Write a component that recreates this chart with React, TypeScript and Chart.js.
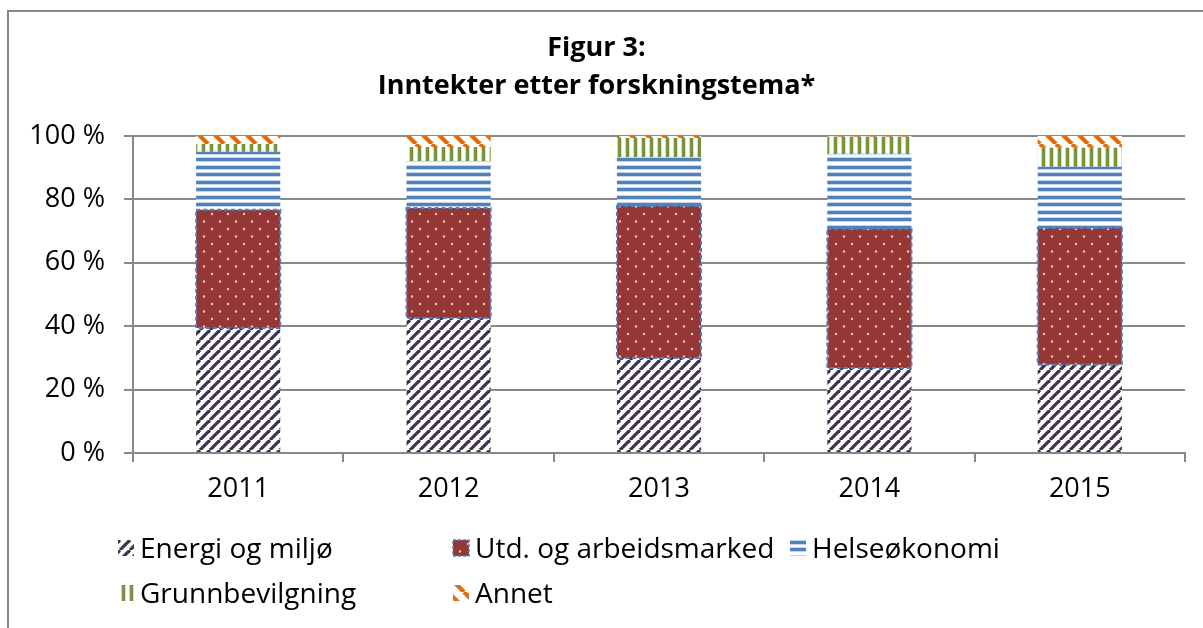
import React, { useEffect, useRef } from "react";
import { Chart, registerables } from "chart.js";

Chart.register(...registerables);

const years = ["2011", "2012", "2013", "2014", "2015"];
const seriesNames = ["Energi og miljø", "Utd. og arbeidsmarked", "Helseøkonomi", "Grunnbevilgning", "Annet"];
const energi = [39.4, 42.6, 30.0, 26.8, 27.8];
const utdanning = [37.3, 34.7, 47.9, 43.9, 43.2];
const helse = [18.3, 14.8, 15.5, 23.6, 19.3];
const grunn = [2.5, 4.4, 6.0, 5.5, 6.0];
const annet = [2.5, 3.5, 0.6, 0.2, 3.7];
const yTicks = [0, 20, 40, 60, 80, 100];

const FONT = "'Open Sans', 'DejaVu Sans', sans-serif";

function makePattern(w: number, h: number, draw: (c: CanvasRenderingContext2D) => void): CanvasPattern | string {
  const cv = document.createElement("canvas");
  cv.width = w;
  cv.height = h;
  const c = cv.getContext("2d")!;
  c.fillStyle = "#ffffff";
  c.fillRect(0, 0, w, h);
  draw(c);
  return c.createPattern(cv, "repeat") || "#888";
}

function buildPatterns() {
  const energiP = makePattern(10, 10, (c) => {
    c.strokeStyle = "#3f3151";
    c.lineWidth = 3.2;
    for (const k of [-10, 0, 10]) {
      c.beginPath();
      c.moveTo(k, 10);
      c.lineTo(k + 10, 0);
      c.stroke();
    }
  });
  const utdP = makePattern(16, 15, (c) => {
    c.fillStyle = "#953735";
    c.fillRect(0, 0, 16, 15);
    c.fillStyle = "#ebc7c7";
    c.beginPath();
    c.arc(4, 4, 1.2, 0, Math.PI * 2);
    c.arc(12, 11.5, 1.2, 0, Math.PI * 2);
    c.fill();
  });
  const helseP = makePattern(4, 15, (c) => {
    c.fillStyle = "#c5d5ea";
    c.fillRect(0, 0, 4, 5);
    c.fillRect(0, 7, 4, 5);
    c.fillStyle = "#4f81bd";
    c.fillRect(0, 1, 4, 3);
    c.fillRect(0, 8, 4, 3);
  });
  const grunnP = makePattern(8, 4, (c) => {
    c.fillStyle = "#d3e0bb";
    c.fillRect(1, 0, 5, 4);
    c.fillStyle = "#77933c";
    c.fillRect(2, 0, 3, 4);
  });
  const annetP = makePattern(16, 16, (c) => {
    c.strokeStyle = "#e46c0a";
    c.lineWidth = 4.2;
    for (const k of [-16, 0, 16]) {
      c.beginPath();
      c.moveTo(k, 0);
      c.lineTo(k + 16, 16);
      c.stroke();
    }
  });
  return [energiP, utdP, helseP, grunnP, annetP];
}

const dashedBorderPlugin = {
  id: "dashedBorder",
  afterDatasetsDraw(chart: any) {
    const meta = chart.getDatasetMeta(1);
    const ctx = chart.ctx;
    ctx.save();
    ctx.strokeStyle = "#4f81bd";
    ctx.lineWidth = 2;
    ctx.setLineDash([4, 3]);
    meta.data.forEach((el: any) => {
      const left = el.x - el.width / 2;
      ctx.strokeRect(left, el.y, el.width, el.base - el.y);
    });
    ctx.restore();
  },
};

const gridLegendPlugin = {
  id: "gridLegend",
  afterDraw(chart: any) {
    const { ctx, chartArea } = chart;
    const colX = [chartArea.left - 15, chartArea.left + 320, chartArea.left + 657];
    const rowY = [chartArea.bottom + 105, chartArea.bottom + 150];
    ctx.save();
    chart.data.datasets.forEach((ds: any, i: number) => {
      const col = i % 3;
      const row = Math.floor(i / 3);
      const x = colX[col];
      const y = rowY[row];
      const sw = 16;
      ctx.fillStyle = ds.backgroundColor;
      ctx.fillRect(x, y - 18, sw, sw);
      if (i === 1) {
        ctx.strokeStyle = "#4f81bd";
        ctx.lineWidth = 1.5;
        ctx.setLineDash([3, 2]);
        ctx.strokeRect(x, y - 18, sw, sw);
        ctx.setLineDash([]);
      }
      ctx.fillStyle = "#000";
      ctx.font = `28px ${FONT}`;
      ctx.textBaseline = "alphabetic";
      ctx.textAlign = "left";
      ctx.fillText(ds.label, x + 22, y);
    });
    ctx.restore();
  },
};

export default function App() {
  const ref = useRef<HTMLCanvasElement | null>(null);

  useEffect(() => {
    if (!ref.current) return;
    const pats = buildPatterns();
    const values = [energi, utdanning, helse, grunn, annet];
    const chart = new Chart(ref.current, {
      type: "bar",
      data: {
        labels: years,
        datasets: seriesNames.map((name, i) => ({
          label: name,
          data: values[i],
          backgroundColor: pats[i] as any,
          borderWidth: 0,
          barPercentage: 0.4,
          categoryPercentage: 1,
        })),
      },
      options: {
        responsive: false,
        animation: false,
        layout: { padding: { left: 8, right: 18, top: 0, bottom: 115 } },
        plugins: {
          legend: { display: false },
          tooltip: { enabled: false },
          title: {
            display: true,
            text: ["Figur 3:", "Inntekter etter forskningstema*"],
            color: "#000",
            font: { family: FONT, size: 27, weight: "bold", lineHeight: "38px" as any },
            padding: { top: 29, bottom: 31 },
          },
        },
        scales: {
          x: {
            stacked: true,
            offset: true,
            grid: {
              display: true,
              drawOnChartArea: false,
              drawTicks: true,
              tickLength: 9,
              offset: true,
              color: "#888",
              lineWidth: 2,
            },
            border: { display: true, color: "#888", width: 2 },
            ticks: { color: "#000", font: { family: FONT, size: 27 }, padding: 11, maxRotation: 0 },
            afterFit: (s: any) => {
              s.height = 60;
            },
          },
          y: {
            stacked: true,
            min: 0,
            max: 100,
            afterBuildTicks: (s: any) => {
              s.ticks = yTicks.map((v) => ({ value: v }));
            },
            grid: { color: "#888", lineWidth: 2, tickLength: 9, drawTicks: true },
            border: { display: true, color: "#888", width: 2 },
            ticks: {
              color: "#000",
              font: { family: FONT, size: 27 },
              padding: 19,
              callback: (v: any) => `${v} %`,
            },
            afterFit: (s: any) => {
              s.width = 125;
            },
          },
        },
      },
      plugins: [dashedBorderPlugin, gridLegendPlugin],
    });
    return () => chart.destroy();
  }, []);

  return (
    <div style={{ position: "fixed", left: 0, top: 0, width: 1203, height: 628, background: "#fff" }}>
      <div
        style={{
          position: "absolute",
          left: 7,
          top: 10,
          width: 1203,
          height: 628,
          borderLeft: "2px solid #888",
          borderTop: "2px solid #888",
        }}
      />
      <canvas ref={ref} width={1203} height={628} style={{ position: "absolute", left: 0, top: 0 }} />
    </div>
  );
}
